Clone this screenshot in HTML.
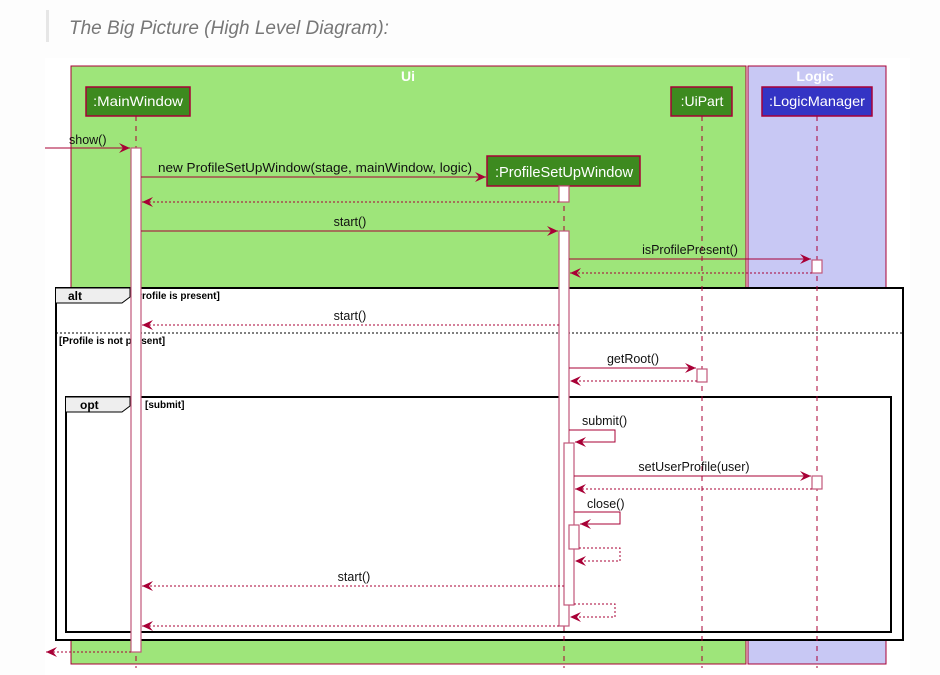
<!DOCTYPE html>
<html><head><meta charset="utf-8"><style>
html,body{margin:0;padding:0;background:#fdfdfd;width:940px;height:675px;overflow:hidden}
</style></head><body>
<svg width="940" height="675" xmlns="http://www.w3.org/2000/svg" font-family="Liberation Sans, sans-serif">
<defs>
<marker id="a" markerWidth="12" markerHeight="10" refX="11" refY="5" orient="auto" markerUnits="userSpaceOnUse"><path d="M0,0 L11,5 L0,10 L4,5 Z" fill="#a80036"/></marker>
</defs>
<rect x="46" y="10" width="3" height="32" fill="#e6e6e6"/>
<text x="69" y="34" font-size="19" font-style="italic" fill="#777">The Big Picture (High Level Diagram):</text>
<rect x="45" y="58" width="865" height="617" fill="#fff"/>
<rect x="71" y="66" width="675" height="598" fill="#9ee57a" stroke="#a80036" stroke-width="1"/>
<rect x="748" y="66" width="138" height="598" fill="#c8c8f4" stroke="#a80036" stroke-width="1"/>
<text x="408" y="81" font-size="14" font-weight="bold" fill="#fff" text-anchor="middle">Ui</text>
<text x="815" y="81" font-size="14" font-weight="bold" fill="#fff" text-anchor="middle">Logic</text>
<rect x="56" y="288" width="847" height="352" fill="#fff" stroke="#000" stroke-width="2"/>
<line x1="56" y1="333" x2="903" y2="333" stroke="#000" stroke-dasharray="2,2"/>
<path d="M56,288 H130 V297 L122,303 H56" fill="#eee" stroke="#000" stroke-width="1"/>
<text x="68" y="300" font-size="12" font-weight="bold">alt</text>
<text x="132" y="299" font-size="10" font-weight="bold">[Profile is present]</text>
<text x="59" y="344" font-size="10" font-weight="bold">[Profile is not present]</text>
<rect x="66" y="397" width="825" height="235" fill="none" stroke="#000" stroke-width="2"/>
<path d="M66,397 H130 V406 L122,412 H66" fill="#eee" stroke="#000" stroke-width="1"/>
<text x="80" y="409" font-size="12" font-weight="bold">opt</text>
<text x="145" y="408" font-size="10" font-weight="bold">[submit]</text>
<g stroke="#a80036" stroke-dasharray="5,5" stroke-width="1">
<line x1="136" y1="116" x2="136" y2="668"/>
<line x1="702" y1="116" x2="702" y2="668"/>
<line x1="817" y1="116" x2="817" y2="668"/>
<line x1="564" y1="186" x2="564" y2="668"/>
</g>
<rect x="86" y="87" width="104" height="29" fill="#3d8a1f" stroke="#a80036" stroke-width="1.5"/>
<text x="138" y="106" font-size="14" fill="#fff" text-anchor="middle" textLength="90" lengthAdjust="spacingAndGlyphs">:MainWindow</text>
<rect x="671" y="87" width="61" height="29" fill="#3d8a1f" stroke="#a80036" stroke-width="1.5"/>
<text x="702" y="106" font-size="14" fill="#fff" text-anchor="middle">:UiPart</text>
<rect x="762" y="87" width="110" height="29" fill="#3434c4" stroke="#a80036" stroke-width="1.5"/>
<text x="817" y="106" font-size="14" fill="#fff" text-anchor="middle" textLength="96" lengthAdjust="spacingAndGlyphs">:LogicManager</text>
<rect x="487" y="156" width="153" height="30" fill="#3d8a1f" stroke="#a80036" stroke-width="1.5"/>
<text x="564" y="177" font-size="14.5" fill="#fff" text-anchor="middle" textLength="138" lengthAdjust="spacingAndGlyphs">:ProfileSetUpWindow</text>
<g fill="#fff" stroke="#c0587a" stroke-width="1.2">
<rect x="131" y="148" width="10" height="504"/>
<rect x="559" y="186" width="10" height="16"/>
<rect x="559" y="231" width="10" height="395"/>
<rect x="564" y="443" width="10" height="162"/>
<rect x="569" y="525" width="10" height="24"/>
<rect x="812" y="260" width="10" height="13"/>
<rect x="812" y="476" width="10" height="13"/>
<rect x="697" y="369" width="10" height="13"/>
</g>
<g stroke="#a80036" stroke-width="1" fill="none">
<line x1="45" y1="148" x2="130" y2="148" marker-end="url(#a)"/>
<line x1="141" y1="177" x2="486" y2="177" marker-end="url(#a)"/>
<line x1="559" y1="202" x2="142" y2="202" stroke-dasharray="2,2" marker-end="url(#a)"/>
<line x1="141" y1="231" x2="558" y2="231" marker-end="url(#a)"/>
<line x1="569" y1="259" x2="811" y2="259" marker-end="url(#a)"/>
<line x1="812" y1="273" x2="570" y2="273" stroke-dasharray="2,2" marker-end="url(#a)"/>
<line x1="559" y1="325" x2="142" y2="325" stroke-dasharray="2,2" marker-end="url(#a)"/>
<line x1="569" y1="368" x2="696" y2="368" marker-end="url(#a)"/>
<line x1="697" y1="381" x2="570" y2="381" stroke-dasharray="2,2" marker-end="url(#a)"/>
<path d="M569,430 H615 V442 H575" marker-end="url(#a)"/>
<line x1="574" y1="476" x2="811" y2="476" marker-end="url(#a)"/>
<line x1="812" y1="489" x2="575" y2="489" stroke-dasharray="2,2" marker-end="url(#a)"/>
<path d="M574,512 H620 V524 H580" marker-end="url(#a)"/>
<path d="M579,548 H620 V561 H575" stroke-dasharray="2,2" marker-end="url(#a)"/>
<line x1="564" y1="586" x2="142" y2="586" stroke-dasharray="2,2" marker-end="url(#a)"/>
<path d="M574,604 H615 V617 H570" stroke-dasharray="2,2" marker-end="url(#a)"/>
<line x1="559" y1="626" x2="142" y2="626" stroke-dasharray="2,2" marker-end="url(#a)"/>
<line x1="131" y1="652" x2="46" y2="652" stroke-dasharray="2,2" marker-end="url(#a)"/>
</g>
<g font-size="12.5" fill="#111">
<text x="69" y="144">show()</text>
<text x="158" y="172" textLength="314" lengthAdjust="spacingAndGlyphs">new ProfileSetUpWindow(stage, mainWindow, logic)</text>
<text x="350" y="226" text-anchor="middle">start()</text>
<text x="690" y="254" text-anchor="middle">isProfilePresent()</text>
<text x="350" y="320" text-anchor="middle">start()</text>
<text x="633" y="363" text-anchor="middle">getRoot()</text>
<text x="582" y="425">submit()</text>
<text x="694" y="471" text-anchor="middle">setUserProfile(user)</text>
<text x="587" y="508">close()</text>
<text x="354" y="581" text-anchor="middle">start()</text>
</g>
</svg>
</body></html>
